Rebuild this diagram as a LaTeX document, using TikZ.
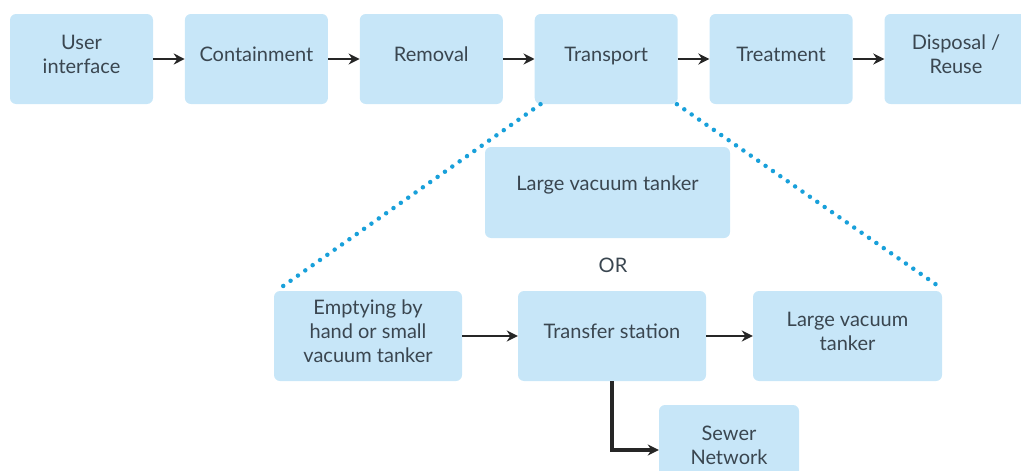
\documentclass[tikz,border=0pt]{standalone}
\usepackage{fontspec}
\setmainfont{Lato}
\usepackage{xcolor}
\usetikzlibrary{positioning, arrows.meta}

\definecolor{boxblue}{RGB}{199,230,248}
\definecolor{boxtext}{RGB}{58,70,80}
\definecolor{dotblue}{RGB}{24,160,218}

\begin{document}
\begin{tikzpicture}[x=1pt, y=-1pt]

	\tikzset{stage box/.style={
			fill=boxblue,
			rounded corners=6pt,
			text=boxtext,
			font=\fontsize{20}{24}\selectfont,
			align=center,
			inner sep=0pt,
			minimum height=90pt,
			text depth=10pt,
			minimum width=#1
		},
		stage box/.default=143pt,
		flow/.style={-{Stealth[length=11pt,width=11pt]}, line width=2.8pt, draw=black!85},
		zoom line/.style={draw=dotblue, line width=4.5pt, line cap=round, dash pattern=on 0pt off 9pt}
	}

	\useasboundingbox (0,0) rectangle (1021,471);

	% main chain
	\node[stage box] (user) at (81.5,59) {User\\interface};
	\node[stage box, right=31.5pt of user] (contain) {Containment};
	\node[stage box, right=31.5pt of contain] (removal) {Removal};
	\node[stage box, right=31.5pt of removal] (transport) {Transport};
	\node[stage box, right=31.5pt of transport] (treat) {Treatment};
	\node[stage box, right=31.5pt of treat] (dispose) {Disposal /\\Reuse};

	\foreach \a/\b in {user/contain, contain/removal, removal/transport, transport/treat, treat/dispose}
		\draw[flow] (\a) -- (\b);

	% transport options
	\node[stage box=245pt, minimum height=91pt, text depth=18pt] (bigtank) at (607.5,192.5) {Large vacuum tanker};
	\node[text=boxtext, font=\fontsize{20}{24}\selectfont] (or) at (613,265) {OR};

	\node[stage box=188pt] (empty) at (368,336) {Emptying by\\hand or small\\vacuum tanker};
	\node[stage box=188pt] (station) at (612,336) {Transfer station};
	\node[stage box=189pt] (bigtank2) at (847.5,336) {Large vacuum\\tanker};
	\node[stage box=140pt] (sewer) at (729,450) {Sewer\\Network};

	\draw[flow] (empty) -- (station);
	\draw[flow] (station) -- (bigtank2);
	\draw[flow, line width=3.2pt] (station.south) -- (station.south |- sewer.west) -- (sewer.west);

	\draw[zoom line] ([xshift=6pt]transport.south west) -- ([xshift=4pt, yshift=1pt]empty.north west);
	\draw[zoom line] ([xshift=-1pt]transport.south east) -- ([yshift=2pt]bigtank2.north east);

\end{tikzpicture}
\end{document}
